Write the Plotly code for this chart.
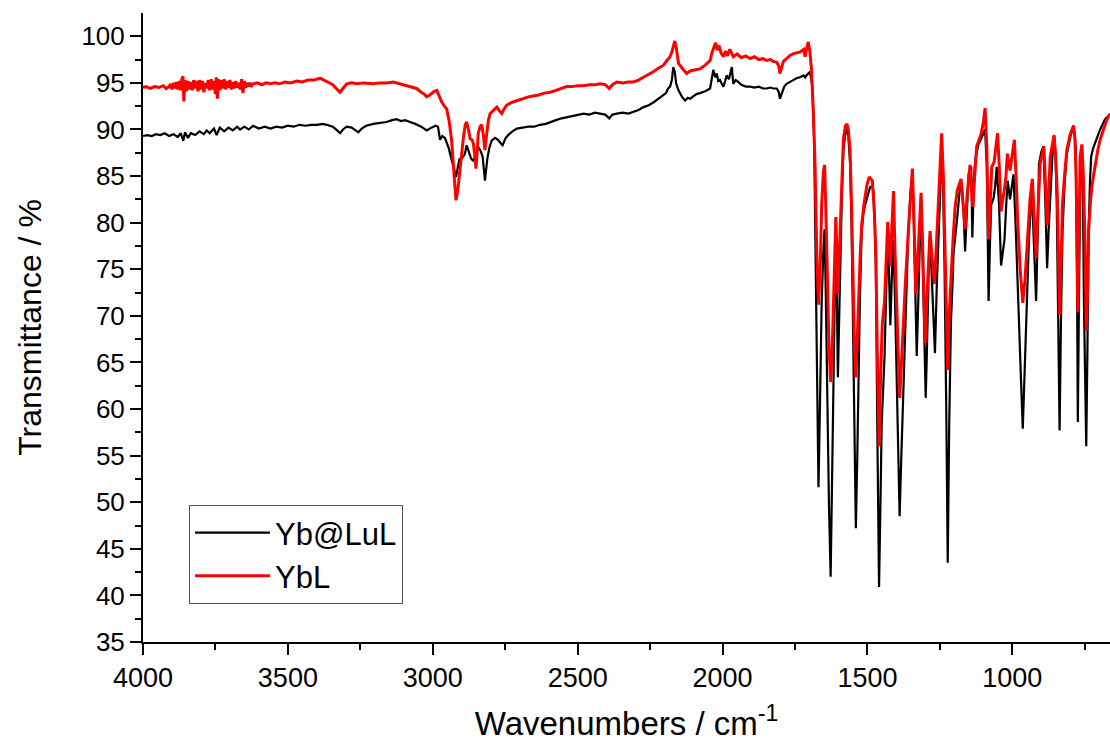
import plotly.graph_objects as go

# ---------------- data ----------------
wn_black = [4000, 3985, 3970, 3955, 3940, 3925, 3910, 3895, 3880, 3870, 3861, 3855, 3845, 3835, 3820,
            3805, 3790, 3780, 3770, 3755, 3746, 3735, 3720, 3705, 3690, 3675, 3665, 3650, 3635, 3620,
            3600, 3580, 3560, 3540, 3520, 3500, 3480, 3460, 3440, 3420, 3400, 3380, 3366, 3345, 3330,
            3320, 3310, 3297, 3280, 3265, 3257, 3245, 3230, 3205, 3180, 3160, 3140, 3125, 3110, 3095,
            3079, 3060, 3040, 3021, 3005, 2990, 2982, 2975, 2967, 2958, 2945, 2935, 2927, 2920, 2914,
            2908, 2900, 2890, 2883, 2876, 2868, 2860, 2850, 2843, 2835, 2828, 2820, 2812, 2805, 2797,
            2785, 2775, 2765, 2759, 2750, 2740, 2725, 2710, 2690, 2670, 2650, 2630, 2610, 2595, 2575,
            2555, 2538, 2515, 2495, 2480, 2460, 2440, 2423, 2405, 2391, 2380, 2365, 2345, 2325, 2308,
            2290, 2273, 2255, 2239, 2220, 2204, 2195, 2188, 2181, 2175, 2170, 2165, 2160, 2152, 2140,
            2129, 2120, 2112, 2100, 2090, 2078, 2060, 2043, 2038, 2032, 2025, 2020, 2015, 2009, 2003,
            1997, 1991, 1986, 1978, 1972, 1968, 1963, 1955, 1946, 1935, 1920, 1905, 1890, 1875, 1860,
            1848, 1835, 1825, 1813, 1806, 1802, 1795, 1787, 1779, 1765, 1756, 1745, 1733, 1720, 1715,
            1708, 1701, 1696, 1690, 1684, 1681, 1675, 1669, 1663, 1658, 1652, 1648, 1644, 1640, 1633,
            1627, 1622, 1617, 1612, 1609, 1602, 1596, 1589, 1583, 1576, 1571, 1566, 1560, 1555, 1551,
            1545, 1540, 1535, 1531, 1526, 1520, 1514, 1508, 1499, 1491, 1485, 1479, 1475, 1471, 1466,
            1460, 1455, 1451, 1446, 1441, 1435, 1430, 1426, 1421, 1416, 1411, 1405, 1399, 1394, 1389,
            1384, 1379, 1376, 1372, 1366, 1359, 1352, 1345, 1340, 1336, 1330, 1326, 1322, 1315, 1311,
            1307, 1299, 1295, 1292, 1288, 1284, 1280, 1276, 1271, 1267, 1261, 1255, 1249, 1244, 1239,
            1234, 1228, 1223, 1218, 1212, 1207, 1203, 1192, 1180, 1174, 1168, 1163, 1157, 1151, 1142,
            1138, 1133, 1128, 1118, 1105, 1094, 1088, 1082, 1077, 1073, 1065, 1059, 1054, 1046, 1039,
            1033, 1027, 1021, 1016, 1008, 1001, 996, 989, 982, 976, 970, 964, 957, 950, 943,
            933, 927, 922, 918, 913, 908, 900, 893, 886, 880, 875, 870, 862, 856, 851,
            847, 842, 837, 832, 827, 820, 812, 800, 789, 785, 781, 777, 774, 770, 765,
            760, 756, 753, 749, 745, 741, 737, 732, 728, 721, 714, 705, 697, 688, 680,
            670, 663]
t_black = [89.3, 89.4, 89.3, 89.5, 89.4, 89.6, 89.3, 89.5, 89.2, 89.6, 88.8, 89.7, 89.1, 89.6, 89.4,
           89.8, 89.5, 89.9, 89.6, 90.1, 89.4, 90.2, 89.8, 90.2, 89.9, 90.3, 90.0, 90.3, 90.0, 90.4,
           90.1, 90.3, 90.1, 90.3, 90.2, 90.4, 90.3, 90.5, 90.4, 90.5, 90.5, 90.6, 90.5, 90.3, 89.9,
           89.6, 90.0, 90.3, 90.2, 89.9, 89.7, 90.1, 90.4, 90.6, 90.7, 90.8, 91.0, 91.1, 90.9, 91.0,
           90.8, 90.6, 90.3, 89.9, 90.2, 90.4, 90.3, 88.9, 89.3, 89.1, 88.0, 86.9, 85.8, 84.9, 85.8,
           86.8, 86.9, 87.3, 88.3, 87.6, 86.9, 86.6, 87.4, 88.1, 87.7, 87.1, 84.5, 86.8, 88.0, 88.8,
           89.1, 88.9, 88.5, 88.3, 89.0, 89.4, 89.8, 90.1, 90.2, 90.3, 90.3, 90.5, 90.6, 90.8, 91.0,
           91.2, 91.3, 91.5, 91.6, 91.7, 91.6, 91.8, 91.7, 91.6, 91.2, 91.6, 91.7, 91.8, 91.7, 91.9,
           92.1, 92.4, 92.6, 92.9, 93.3, 93.7, 93.9, 94.4, 94.6, 95.3, 96.7, 96.2, 94.9, 94.2, 93.5,
           93.1, 93.4, 93.3, 93.6, 93.8, 93.9, 94.1, 94.4, 95.2, 96.4, 95.6, 96.0, 95.2, 95.3, 94.9,
           94.6, 95.2, 95.8, 95.4, 96.2, 96.7, 94.9, 95.3, 95.1, 94.8, 94.6, 94.6, 94.5, 94.6, 94.4,
           94.4, 94.5, 94.4, 94.4, 94.0, 93.3, 94.0, 94.6, 94.9, 95.2, 95.3, 95.5, 95.6, 95.8, 95.6,
           95.9, 96.1, 95.8, 94.5, 89.0, 82.6, 66.0, 51.6, 62.0, 71.6, 77.0, 79.3, 73.0, 64.2, 50.0,
           42.0, 52.0, 64.2, 74.0, 80.4, 63.4, 72.3, 82.0, 87.8, 89.6, 90.0, 89.3, 86.4, 80.0, 71.6,
           58.0, 47.2, 55.0, 64.2, 72.0, 79.0, 81.0, 81.9, 83.0, 83.8, 83.9, 83.4, 80.0, 75.3, 58.0,
           40.9, 50.0, 58.3, 62.0, 65.7, 73.0, 79.5, 75.0, 69.0, 74.0, 78.2, 72.0, 64.2, 55.0, 48.5,
           54.0, 59.0, 62.0, 67.2, 73.0, 79.0, 83.0, 85.3, 80.0, 72.3, 65.7, 70.0, 75.3, 82.8, 78.0,
           71.6, 61.2, 66.0, 71.6, 76.0, 78.6, 76.0, 73.1, 69.0, 66.0, 73.0, 79.0, 85.0, 87.5, 84.0,
           75.3, 60.0, 43.5, 58.0, 69.3, 73.0, 76.7, 80.0, 84.0, 84.1, 81.0, 76.9, 82.0, 85.2, 86.0,
           78.4, 84.5, 86.7, 88.3, 89.3, 90.0, 86.0, 71.6, 78.0, 81.9, 82.6, 84.0, 86.0, 82.0, 75.4,
           77.0, 78.2, 82.0, 84.5, 82.5, 84.0, 85.2, 80.0, 74.4, 69.0, 63.0, 57.9, 65.0, 71.6, 78.0,
           83.8, 79.0, 75.0, 71.6, 78.0, 86.3, 87.6, 88.2, 82.0, 75.1, 79.0, 82.6, 87.0, 89.3, 87.0,
           82.6, 70.0, 57.7, 70.0, 79.0, 84.0, 87.4, 89.2, 90.4, 89.6, 87.8, 75.0, 58.6, 72.0, 86.3,
           88.2, 82.0, 71.6, 62.0, 56.0, 66.0, 79.0, 84.5, 87.1, 88.0, 88.6, 89.4, 90.0, 90.6, 91.1,
           91.4, 91.6]

wn_red = [4000, 3990, 3975, 3960, 3945, 3930, 3920, 3910, 3905, 3900, 3895, 3890, 3885, 3880, 3875,
          3870, 3866, 3862, 3859, 3855, 3850, 3845, 3840, 3835, 3830, 3825, 3820, 3815, 3810, 3805,
          3800, 3795, 3790, 3785, 3780, 3775, 3770, 3765, 3760, 3755, 3750, 3747, 3743, 3739, 3735,
          3730, 3725, 3720, 3715, 3710, 3705, 3700, 3695, 3690, 3685, 3680, 3675, 3670, 3665, 3660,
          3655, 3650, 3645, 3640, 3635, 3630, 3625, 3620,
          3605, 3590, 3575, 3560, 3545, 3530, 3510, 3490, 3470, 3450, 3430, 3410, 3389, 3375,
          3360, 3345, 3330, 3320, 3310, 3297, 3280, 3260, 3240, 3220, 3205, 3185, 3160, 3136, 3113,
          3095, 3075, 3056, 3040, 3030, 3021, 3010, 2995, 2986, 2978, 2970, 2960, 2952, 2943, 2935,
          2926, 2920, 2914, 2908, 2900, 2894, 2888, 2883, 2877, 2871, 2865, 2860, 2855, 2851, 2847,
          2843, 2837, 2831, 2826, 2820, 2814, 2808, 2802, 2790, 2779, 2770, 2762, 2754, 2745, 2728,
          2710, 2690, 2670, 2653, 2635, 2615, 2595, 2575, 2555, 2538, 2520, 2500, 2480, 2460, 2440,
          2423, 2405, 2391, 2380, 2365, 2345, 2325, 2308, 2290, 2273, 2255, 2239, 2220, 2204, 2192,
          2181, 2174, 2169, 2165, 2160, 2157, 2152, 2140, 2124, 2110, 2095, 2078, 2060, 2050, 2043,
          2036, 2030, 2024, 2018, 2012, 2005, 1997, 1990, 1983, 1975, 1968, 1963, 1950, 1935, 1920,
          1905, 1890, 1875, 1860, 1848, 1835, 1825, 1813, 1806, 1802, 1797, 1790, 1779, 1765, 1750,
          1733, 1720, 1715, 1709, 1704, 1699, 1693, 1687, 1681, 1675, 1669, 1663, 1658, 1652, 1648,
          1644, 1639, 1633, 1627, 1622, 1617, 1612, 1609, 1602, 1596, 1589, 1583, 1576, 1571, 1566,
          1560, 1555, 1550, 1545, 1540, 1535, 1530, 1525, 1520, 1512, 1502, 1494, 1487, 1483, 1476,
          1471, 1466, 1460, 1455, 1449, 1441, 1436, 1430, 1426, 1421, 1415, 1410, 1405, 1399, 1394,
          1389, 1384, 1379, 1370, 1359, 1352, 1345, 1339, 1333, 1328, 1322, 1315, 1309, 1301, 1296,
          1290, 1284, 1279, 1274, 1269, 1263, 1255, 1249, 1244, 1238, 1233, 1228, 1223, 1218, 1212,
          1205, 1198, 1190, 1177, 1170, 1163, 1156, 1146, 1140, 1136, 1130, 1123, 1108, 1100, 1094,
          1088, 1082, 1077, 1071, 1063, 1056, 1051, 1045, 1039, 1033, 1028, 1022, 1017, 1008, 1000,
          993, 987, 982, 973, 964, 956, 947, 939, 931, 925, 918, 912, 904, 891, 885,
          880, 875, 869, 856, 850, 845, 837, 830, 827, 820, 812, 800, 789, 784, 780,
          774, 769, 766, 760, 755, 750, 745, 740, 737, 731, 726, 720, 714, 705, 697,
          688, 680, 670, 663]
t_red = [94.5, 94.6, 94.4, 94.6, 94.5, 94.7, 94.4, 94.6, 94.9, 94.3, 95.0, 94.4, 95.1, 94.3, 95.2,
         94.2, 95.4, 95.7, 93.0, 95.3, 94.1, 95.2, 94.3, 95.1, 94.2, 95.3, 94.4, 95.2, 94.1, 95.3,
         94.3, 95.2, 94.0, 95.0, 94.4, 95.3, 94.2, 95.4, 94.3, 95.2, 93.8, 95.6, 93.3, 95.4, 94.2,
         95.3, 94.4, 95.4, 94.3, 95.2, 94.5, 95.3, 94.3, 95.1, 94.4, 95.2, 94.5, 95.0, 94.3, 95.4,
         93.9, 95.2, 94.5, 95.0, 94.6, 95.0, 94.7, 94.9,
         95.0, 94.8, 95.0, 94.9, 95.0, 94.9, 95.1, 95.0, 95.2, 95.1, 95.3, 95.3, 95.5, 95.3,
         95.1, 94.8, 94.3, 94.0, 94.4, 94.9, 95.0, 94.9, 95.0, 94.9, 94.9, 95.0, 95.0, 95.1, 94.9,
         94.7, 94.6, 94.4, 94.0, 93.8, 93.5, 93.7, 94.1, 94.2, 93.6, 93.0, 92.5, 92.2, 90.8, 88.8,
         84.9, 82.4, 83.4, 85.3, 87.4, 89.2, 90.5, 90.8, 90.0, 89.0, 88.9, 88.5, 87.2, 85.8, 87.5,
         89.6, 90.3, 90.5, 89.5, 87.8, 89.5, 91.0, 91.7, 92.1, 92.4, 92.0, 91.7, 92.2, 92.6, 92.9,
         93.1, 93.3, 93.5, 93.6, 93.7, 93.9, 94.0, 94.2, 94.4, 94.6, 94.6, 94.7, 94.7, 94.8, 94.8,
         94.9, 94.8, 94.4, 94.8, 95.1, 95.0, 95.1, 95.1, 95.3, 95.6, 95.9, 96.2, 96.6, 96.9, 97.4,
         97.8, 98.4, 99.0, 99.5, 98.8, 98.2, 97.1, 96.6, 96.0, 96.3, 96.4, 96.5, 96.9, 97.2, 97.4,
         98.3, 98.8, 99.3, 98.5, 99.0, 98.2, 97.8, 98.4, 97.9, 98.6, 98.0, 97.8, 98.1, 97.7, 97.9,
         97.6, 97.8, 97.5, 97.6, 97.4, 97.5, 97.3, 97.2, 96.8, 96.0, 96.6, 97.3, 97.6, 98.0, 98.2,
         98.3, 98.6, 97.8, 98.8, 99.4, 98.4, 96.4, 92.0, 86.4, 77.0, 71.2, 75.0, 81.9, 85.5, 86.2,
         82.0, 75.3, 67.0, 62.9, 66.0, 71.6, 77.0, 80.6, 72.3, 78.0, 85.0, 89.0, 90.4, 90.6, 90.0,
         87.8, 82.0, 74.0, 67.0, 63.4, 67.0, 72.0, 76.5, 79.7, 82.0, 84.0, 84.9, 84.6, 84.5, 81.0,
         76.7, 66.0, 56.0, 63.0, 69.0, 71.6, 76.0, 80.1, 78.0, 75.3, 80.0, 83.4, 77.0, 71.6, 65.0,
         61.2, 64.0, 67.9, 73.0, 79.0, 83.0, 85.8, 80.0, 72.3, 75.0, 79.0, 83.2, 77.0, 67.1, 71.0,
         75.0, 79.1, 77.0, 75.0, 73.4, 77.0, 82.0, 86.5, 89.6, 85.0, 77.0, 69.0, 64.2, 70.0, 74.5,
         78.0, 81.5, 83.5, 84.7, 82.0, 79.3, 83.0, 86.2, 83.0, 81.7, 85.0, 88.2, 89.5, 90.8, 92.3,
         88.0, 78.2, 82.0, 86.0, 86.5, 88.0, 89.6, 86.0, 81.2, 82.5, 83.4, 85.0, 87.4, 85.6, 87.5,
         88.9, 85.0, 80.4, 75.0, 71.4, 74.0, 79.0, 82.5, 84.7, 80.0, 76.2, 81.0, 86.3, 88.2, 84.0,
         79.7, 83.0, 87.1, 89.4, 87.0, 83.0, 70.1, 78.0, 81.9, 85.0, 87.8, 89.5, 90.4, 89.0, 85.0,
         70.4, 80.0, 87.1, 88.4, 85.0, 79.0, 68.4, 73.0, 79.0, 82.0, 83.8, 85.0, 86.3, 87.8, 88.9,
         89.8, 90.5, 91.3, 91.7]

assert len(wn_black) == len(t_black), (len(wn_black), len(t_black))
assert len(wn_red) == len(t_red), (len(wn_red), len(t_red))

x_major = [4000, 3500, 3000, 2500, 2000, 1500, 1000]
x_minor = [3750, 3250, 2750, 2250, 1750, 1250, 750]
y_major = [35, 40, 45, 50, 55, 60, 65, 70, 75, 80, 85, 90, 95, 100]
y_minor = [37.5, 42.5, 47.5, 52.5, 57.5, 62.5, 67.5, 72.5, 77.5, 82.5, 87.5, 92.5, 97.5]
x_range = [4000, 663]
y_range = [35, 102.5]

FONT = "Liberation Sans, Arial, Helvetica, sans-serif"

fig = go.Figure()
fig.add_trace(go.Scatter(x=wn_black, y=t_black, mode="lines", name="Yb@LuL",
                         line=dict(color="black", width=2.2)))
fig.add_trace(go.Scatter(x=wn_red, y=t_red, mode="lines", name="YbL",
                         line=dict(color="#ff0000", width=3)))

common = dict(showgrid=False, zeroline=False, showline=True, linecolor="black", linewidth=2,
              tickcolor="black", tickwidth=2)

fig.update_layout(
    width=1110, height=746,
    margin=dict(l=143, r=0, t=13, b=104),
    paper_bgcolor="white", plot_bgcolor="white",
    font=dict(family=FONT, color="black"),
    legend=dict(x=0.0476, y=0.218, xanchor="left", yanchor="top",
                bgcolor="white", bordercolor="#555555", borderwidth=1,
                font=dict(size=31, family=FONT), itemwidth=75, tracegroupgap=0),
    xaxis=dict(range=x_range, tickmode="array", tickvals=x_major,
               ticktext=[str(v) for v in x_major], ticks="outside", ticklen=11,
               tickfont=dict(size=27, family=FONT),
               minor=dict(tickmode="array", tickvals=x_minor, ticks="outside", ticklen=6,
                          tickwidth=2, tickcolor="black"),
               title=dict(text="Wavenumbers / cm<sup>-1</sup>", font=dict(size=33, family=FONT),
                          standoff=19),
               **common),
    yaxis=dict(range=y_range, tickmode="array", tickvals=y_major,
               ticktext=[str(v) for v in y_major], ticks="outside", ticklen=11,
               tickfont=dict(size=26, family=FONT),
               minor=dict(tickmode="array", tickvals=y_minor, ticks="outside", ticklen=6,
                          tickwidth=2, tickcolor="black"),
               title=dict(text="Transmittance / %", font=dict(size=32, family=FONT),
                          standoff=30),
               **common),
    xaxis2=dict(range=x_range, overlaying="x", side="top", anchor="y",
                tickmode="array", tickvals=x_major, ticks="inside", ticklen=11,
                showticklabels=False,
                minor=dict(tickmode="array", tickvals=x_minor, ticks="inside", ticklen=6,
                           tickwidth=2, tickcolor="black"),
                **common),
    yaxis2=dict(range=y_range, overlaying="y", side="right", anchor="x",
                tickmode="array", tickvals=y_major, ticks="inside", ticklen=9,
                showticklabels=False,
                minor=dict(tickmode="array", tickvals=y_minor, ticks="inside", ticklen=5,
                           tickwidth=2, tickcolor="black"),
                **common),
)

fig.write_html("out.html")
